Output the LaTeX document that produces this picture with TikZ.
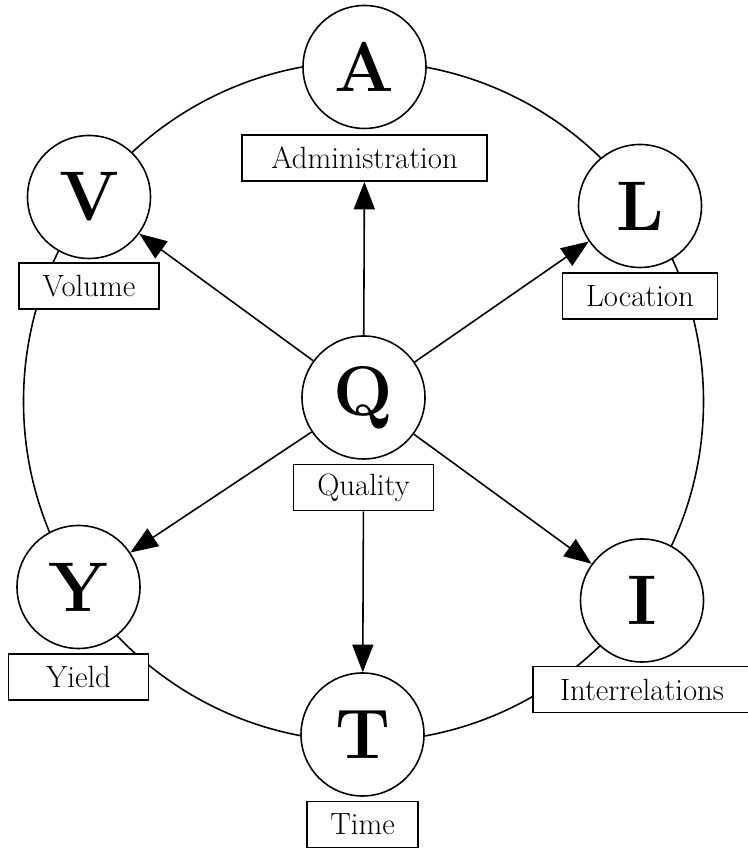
\documentclass[tikz,border=0pt]{standalone}
\usepackage{amsmath}
\usetikzlibrary{arrows.meta,positioning}

\begin{document}
\begin{tikzpicture}[
    letter/.style={circle, draw, fill=white, line width=0.9pt, minimum size=2.46cm, inner sep=0pt,
                   font=\fontsize{40}{40}\selectfont\bfseries},
    tag/.style={rectangle, draw, fill=white, line width=0.9pt, minimum height=0.92cm, inner sep=2pt,
                font=\fontsize{17.5}{17.5}\selectfont},
    >={Triangle[length=0.55cm, width=0.42cm]}]
   \useasboundingbox (0,0) rectangle (14.96,16.98);

   % outer ring
   \coordinate (O) at (7.27,8.95);
   \draw[line width=0.9pt] (O) circle[radius=6.8cm];

   \node[letter] (Q) at (7.27,9.03) {Q};
   \node[letter] (A) at (7.29,15.64) {A};
   \node[letter] (V) at (1.78,13.04) {V};
   \node[letter] (L) at (12.80,12.86) {L};
   \node[letter] (Y) at (1.57,5.24) {Y};
   \node[letter] (I) at (12.84,4.97) {I};
   \node[letter] (T) at (7.25,2.29) {T};

   \node[tag, minimum width=2.80cm, below=0.08cm of Q] (quality) {Quality};
   \node[tag, minimum width=4.90cm, below=0.10cm of A] (admin) {Administration};
   \node[tag, minimum width=2.80cm, below=0.06cm of V] (volume) {Volume};
   \node[tag, minimum width=3.10cm, below=0.08cm of L] (location) {Location};
   \node[tag, minimum width=2.80cm, below=0.08cm of Y] (yield) {Yield};
   \node[tag, minimum width=4.36cm, below=0.06cm of I] (inter) {Interrelations};
   \node[tag, minimum width=2.22cm, below=0.08cm of T] (time) {Time};

  \path[->, line width=0.9pt]
    (Q) edge (admin)
        edge (V)
        edge (L)
        edge (Y)
        edge (I)
    (quality) edge (T);
\end{tikzpicture}
\end{document}
